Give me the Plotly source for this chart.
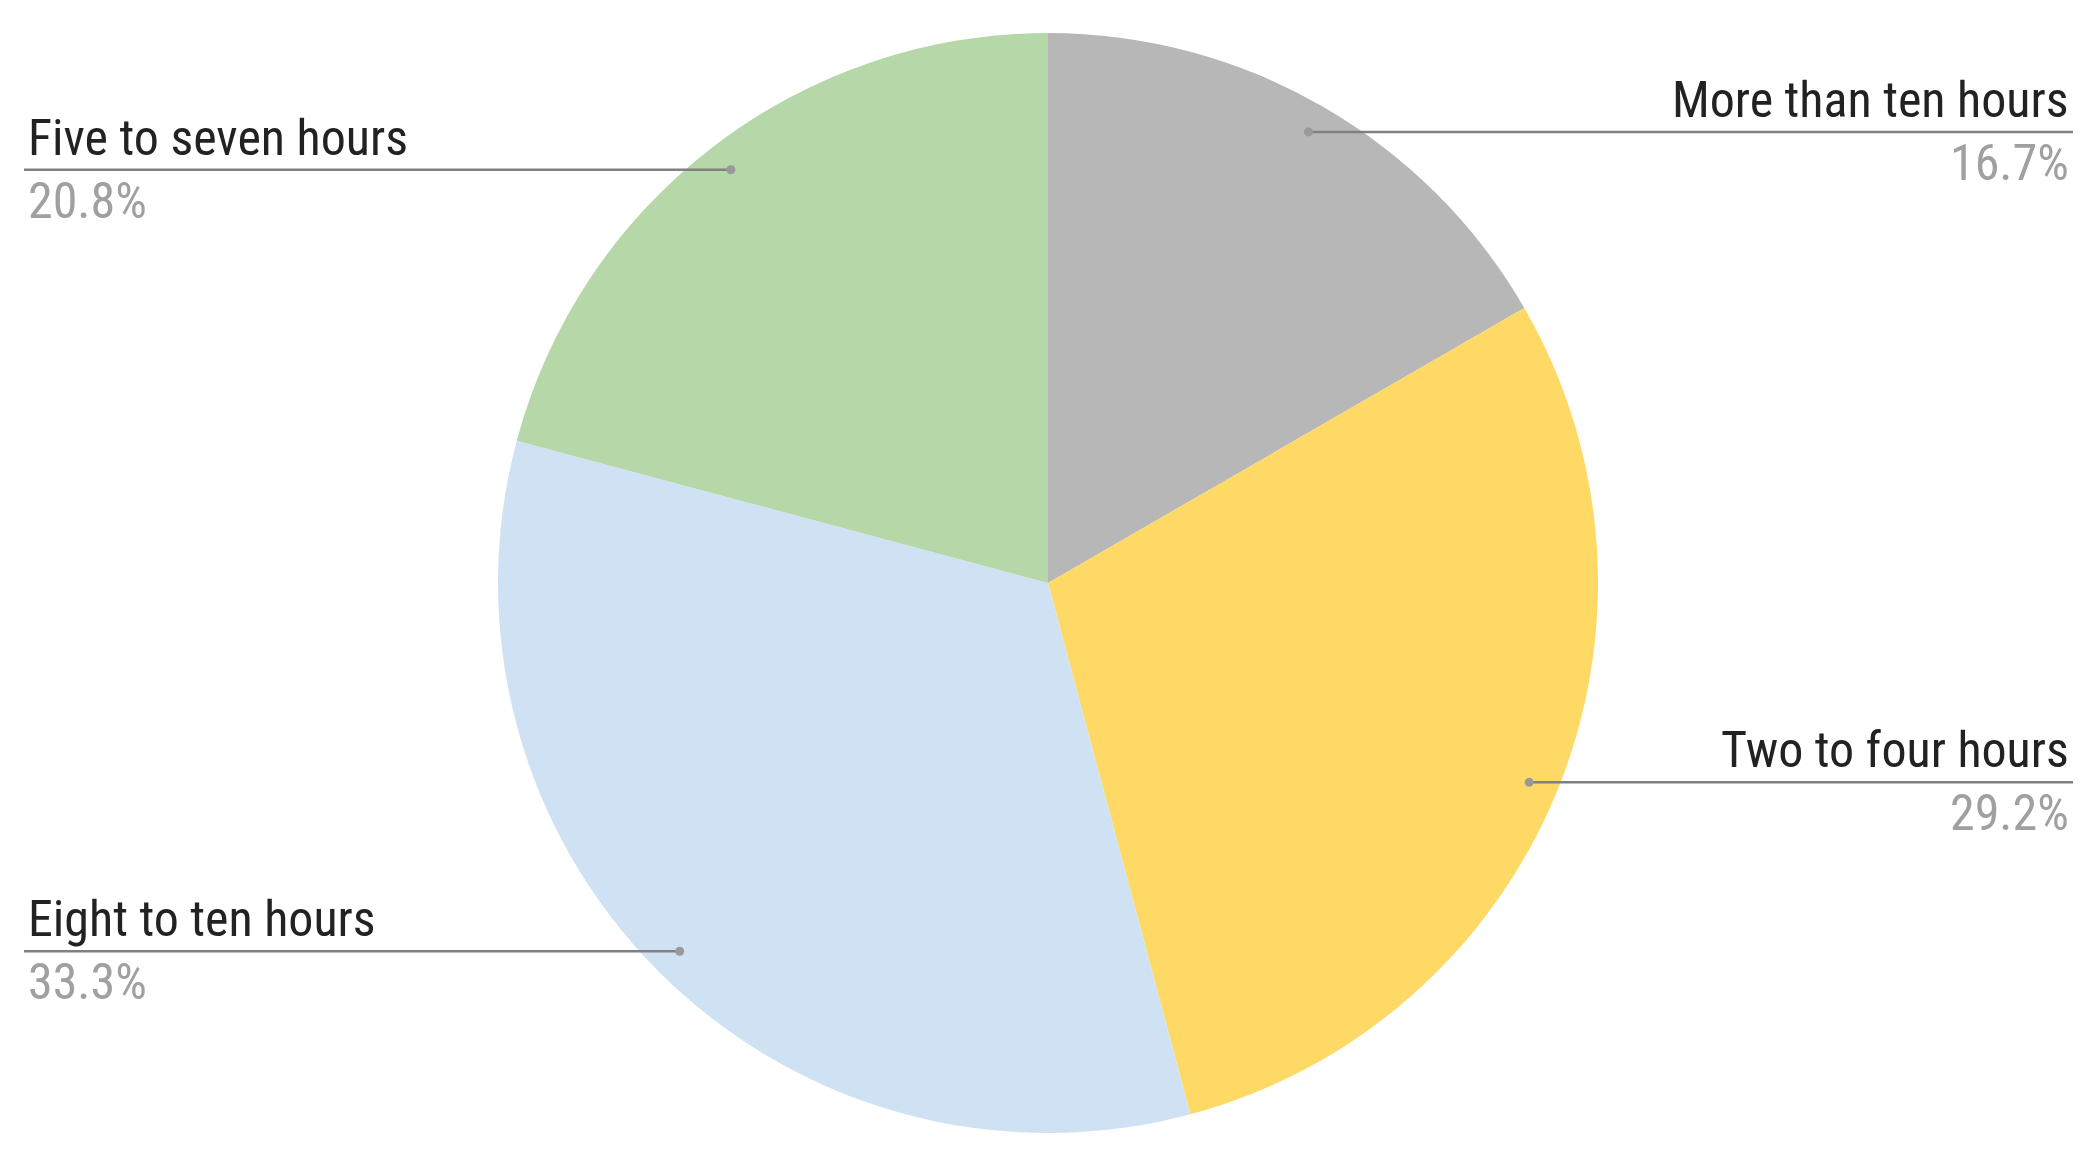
import math

import plotly.graph_objects as go

# Survey answers (counts), slices run clockwise from 12 o'clock
labels = ["More than ten hours", "Two to four hours", "Eight to ten hours", "Five to seven hours"]
counts = [4, 7, 8, 5]
colors = ["#b7b7b7", "#ffd966", "#cfe2f3", "#b6d7a8"]

W, H = 2094, 1155
cx, cy, radius = 1040, 575, 550  # pie centre and radius in pixels
dot_r = 0.947 * radius
left_edge, right_edge = 16, 2065
font_name = "Liberation Sans Narrow, Arial Narrow, Roboto Condensed, Roboto, sans-serif"

fig = go.Figure(
    go.Pie(
        labels=labels,
        values=counts,
        sort=False,
        direction="clockwise",
        rotation=0,
        marker=dict(colors=colors, line=dict(width=0)),
        textinfo="none",
        showlegend=False,
        domain=dict(x=[(cx - radius) / W, (cx + radius) / W], y=[1 - (cy + radius) / H, 1 - (cy - radius) / H]),
    )
)

# Leader lines, dots and outside labels, positioned from each slice's mid angle
total = sum(counts)
cum = 0
shapes, annotations = [], []
for lab, c in zip(labels, counts):
    mid = (cum + c / 2) / total * 2 * math.pi
    cum += c
    px_x = cx + dot_r * math.sin(mid)
    px_y = cy - dot_r * math.cos(mid)
    right = math.sin(mid) > 0
    end_x = right_edge if right else left_edge
    xp, yp, ep = px_x / W, 1 - px_y / H, end_x / W
    shapes.append(dict(type="line", xref="paper", yref="paper", x0=xp, x1=ep, y0=yp, y1=yp,
                       line=dict(color="#808080", width=2.5)))
    shapes.append(dict(type="circle", xref="paper", yref="paper",
                       x0=(px_x - 4.5) / W, x1=(px_x + 4.5) / W, y0=1 - (px_y + 4.5) / H, y1=1 - (px_y - 4.5) / H,
                       fillcolor="#999999", line=dict(width=0)))
    anchor = "right" if right else "left"
    tx = ep + (-0.001 if right else 0.001)
    annotations.append(dict(xref="paper", yref="paper", x=tx, y=1 - (px_y - 32) / H,
                            text=lab, showarrow=False, xanchor=anchor, yanchor="middle",
                            font=dict(family=font_name, size=50, color="#222222")))
    annotations.append(dict(xref="paper", yref="paper", x=tx, y=1 - (px_y + 31) / H,
                            text=f"{c / total * 100:.1f}%", showarrow=False, xanchor=anchor, yanchor="middle",
                            font=dict(family=font_name, size=50, color="#a0a0a0")))

fig.update_layout(
    width=W,
    height=H,
    margin=dict(l=0, r=0, t=0, b=0),
    paper_bgcolor="white",
    plot_bgcolor="white",
    shapes=shapes,
    annotations=annotations,
)
fig.write_html("out.html")
